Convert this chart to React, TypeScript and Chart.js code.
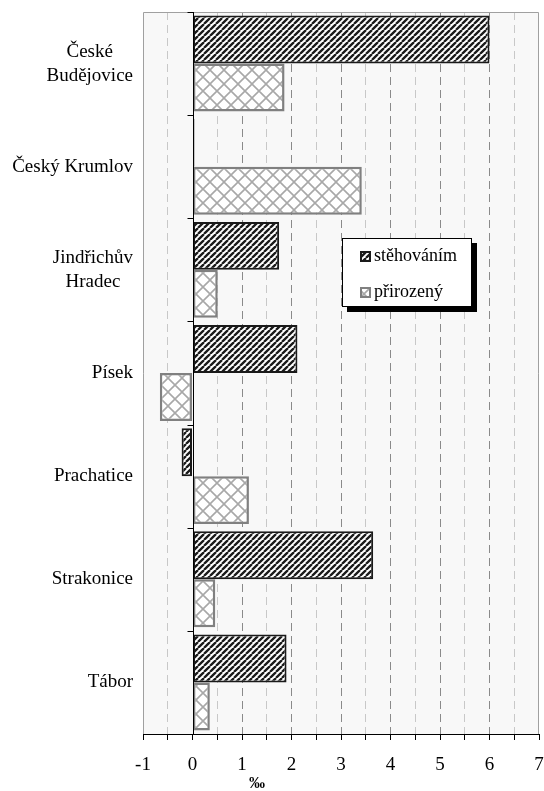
import React, { useEffect, useRef } from 'react';
import { Chart, registerables } from 'chart.js';

Chart.register(...registerables);

const categories: (string | string[])[] = [
  ['České', 'Budějovice'],
  'Český Krumlov',
  ['Jindřichův', 'Hradec'],
  'Písek',
  'Prachatice',
  'Strakonice',
  'Tábor',
];
const seriesNames = ['stěhováním', 'přirozený'];
const migration = [6.0, 0.04, 1.75, 2.12, -0.22, 3.65, 1.9];
const natural = [1.86, 3.42, 0.51, -0.66, 1.14, 0.46, 0.35];
const xMin = -1;
const xMax = 7;
const xStep = 0.5;
const axisTitle = '‰';

const SERIF = "'Liberation Serif', 'Times New Roman', serif";

function makeStripe(): CanvasPattern {
  const c = document.createElement('canvas');
  c.width = 6;
  c.height = 6;
  const g = c.getContext('2d')!;
  g.fillStyle = '#ffffff';
  g.fillRect(0, 0, 6, 6);
  g.strokeStyle = '#1a1a1a';
  g.lineWidth = 2.3;
  g.beginPath();
  for (const o of [-6, 0, 6]) {
    g.moveTo(o, 6);
    g.lineTo(o + 6, 0);
  }
  g.stroke();
  return g.createPattern(c, 'repeat')!;
}

function makeCross(): CanvasPattern {
  const s = 14;
  const c = document.createElement('canvas');
  c.width = s;
  c.height = s;
  const g = c.getContext('2d')!;
  g.fillStyle = '#ffffff';
  g.fillRect(0, 0, s, s);
  g.strokeStyle = '#a8a8a8';
  g.lineWidth = 1.6;
  g.beginPath();
  g.moveTo(0, 0);
  g.lineTo(s, s);
  g.moveTo(0, s);
  g.lineTo(s, 0);
  g.stroke();
  return g.createPattern(c, 'repeat')!;
}

export default function App() {
  const ref = useRef<HTMLCanvasElement | null>(null);

  useEffect(() => {
    if (!ref.current) return;
    const stripe = makeStripe();
    const cross = makeCross();

    const bgPlugin = {
      id: 'bg',
      beforeDraw(chart: any) {
        const { ctx, chartArea: a } = chart;
        ctx.save();
        ctx.fillStyle = '#f8f8f8';
        ctx.fillRect(a.left, a.top, a.right - a.left, a.bottom - a.top);
        ctx.restore();
      },
    };

    const overlayPlugin = {
      id: 'overlay',
      afterDatasetsDraw(chart: any) {
        const { ctx, chartArea: a } = chart;
        const xs = chart.scales.x;
        const ys = chart.scales.y;
        ctx.save();
        // plot border (left, top, right)
        ctx.strokeStyle = '#a0a0a0';
        ctx.lineWidth = 1;
        ctx.beginPath();
        ctx.moveTo(a.left + 0.5, a.bottom);
        ctx.lineTo(a.left + 0.5, a.top + 0.5);
        ctx.lineTo(a.right - 0.5, a.top + 0.5);
        ctx.lineTo(a.right - 0.5, a.bottom);
        ctx.stroke();
        // category axis at x = 0
        const x0 = Math.round(xs.getPixelForValue(0)) + 0.5;
        ctx.strokeStyle = '#000';
        ctx.lineWidth = 1;
        ctx.beginPath();
        ctx.moveTo(x0, a.top);
        ctx.lineTo(x0, a.bottom);
        const n = categories.length;
        const catH = (a.bottom - a.top) / n;
        for (let i = 0; i <= n; i++) {
          const y = Math.round(a.top + i * catH) + 0.5;
          ctx.moveTo(x0 - 6, y);
          ctx.lineTo(x0, y);
        }
        ctx.stroke();
        // category labels
        ctx.fillStyle = '#000';
        ctx.font = `19px ${SERIF}`;
        ctx.textBaseline = 'middle';
        ctx.textAlign = 'center';
        const rightEdge = a.left - 10;
        categories.forEach((lab, i) => {
          const lines = Array.isArray(lab) ? lab : [lab];
          const w = Math.max(...lines.map((l) => ctx.measureText(l).width));
          const cx = rightEdge - w / 2;
          const cy = ys.getPixelForValue(i);
          const lh = 24;
          lines.forEach((l, k) => {
            ctx.fillText(l, cx, cy + (k - (lines.length - 1) / 2) * lh);
          });
        });
        // axis title
        ctx.font = `bold 16px ${SERIF}`;
        ctx.fillText(axisTitle, a.left + 0.288 * (a.right - a.left), a.bottom + 50);
        ctx.restore();
      },
      afterDraw(chart: any) {
        const { ctx } = chart;
        ctx.save();
        const bx = 342;
        const by = 238;
        const bw = 130;
        const bh = 69;
        // shadow
        ctx.fillStyle = '#000';
        ctx.fillRect(bx + 5, by + 5, bw, bh);
        ctx.fillStyle = '#fff';
        ctx.fillRect(bx, by, bw, bh);
        ctx.strokeStyle = '#000';
        ctx.lineWidth = 1;
        ctx.strokeRect(bx + 0.5, by + 0.5, bw - 1, bh - 1);
        const items = [
          { name: seriesNames[0], fill: stripe, border: '#1a1a1a', y: by + 18 },
          { name: seriesNames[1], fill: cross, border: '#808080', y: by + 54 },
        ];
        ctx.font = `18px ${SERIF}`;
        ctx.textBaseline = 'middle';
        ctx.textAlign = 'left';
        for (const it of items) {
          const sx = bx + 18;
          const sy = it.y - 5;
          ctx.fillStyle = it.fill;
          ctx.fillRect(sx, sy, 11, 11);
          ctx.strokeStyle = it.border;
          ctx.lineWidth = 2;
          ctx.strokeRect(sx + 1, sy + 1, 9, 9);
          ctx.fillStyle = '#000';
          ctx.fillText(it.name, bx + 32, it.y);
        }
        ctx.restore();
      },
    };

    const chart = new Chart(ref.current, {
      type: 'bar',
      data: {
        labels: categories as any,
        datasets: [
          {
            label: seriesNames[0],
            data: migration,
            backgroundColor: stripe as any,
            borderColor: '#1a1a1a',
            borderWidth: 2,
            borderSkipped: false,
            categoryPercentage: 0.93,
            barPercentage: 1,
          },
          {
            label: seriesNames[1],
            data: natural,
            backgroundColor: cross as any,
            borderColor: '#808080',
            borderWidth: 2.5,
            borderSkipped: false,
            categoryPercentage: 0.93,
            barPercentage: 1,
          },
        ],
      },
      options: {
        indexAxis: 'y',
        animation: false,
        responsive: true,
        maintainAspectRatio: false,
        layout: { padding: { left: 143, top: 12, right: 5, bottom: 0 } },
        plugins: {
          legend: { display: false },
          tooltip: { enabled: false },
        },
        scales: {
          x: {
            type: 'linear',
            min: xMin,
            max: xMax,
            ticks: {
              stepSize: xStep,
              autoSkip: false,
              maxRotation: 0,
              padding: 14,
              color: '#000',
              font: { family: SERIF, size: 19 },
              callback: (v: any) => (Number.isInteger(v) ? String(v) : ''),
            },
            grid: {
              color: (c: any) => {
                const v = c.tick ? c.tick.value : 0;
                if (v === xMin || v === xMax || v === 0) return 'rgba(0,0,0,0)';
                return Number.isInteger(v) ? '#8a8a8a' : '#c8c8c8';
              },
              tickColor: '#000',
              tickLength: 6,
              lineWidth: 1,
            },
            border: { display: true, color: '#000', width: 1, dash: [8, 5] },
            afterFit: (s: any) => {
              s.height = 57;
              s.paddingLeft = 0;
              s.paddingRight = 0;
            },
          },
          y: {
            display: false,
            offset: true,
            grid: { display: false },
          },
        },
      },
      plugins: [bgPlugin, overlayPlugin],
    });
    return () => chart.destroy();
  }, []);

  return (
    <div style={{ position: 'absolute', left: 0, top: 0, width: 544, height: 791 }}>
      <canvas ref={ref} />
    </div>
  );
}
